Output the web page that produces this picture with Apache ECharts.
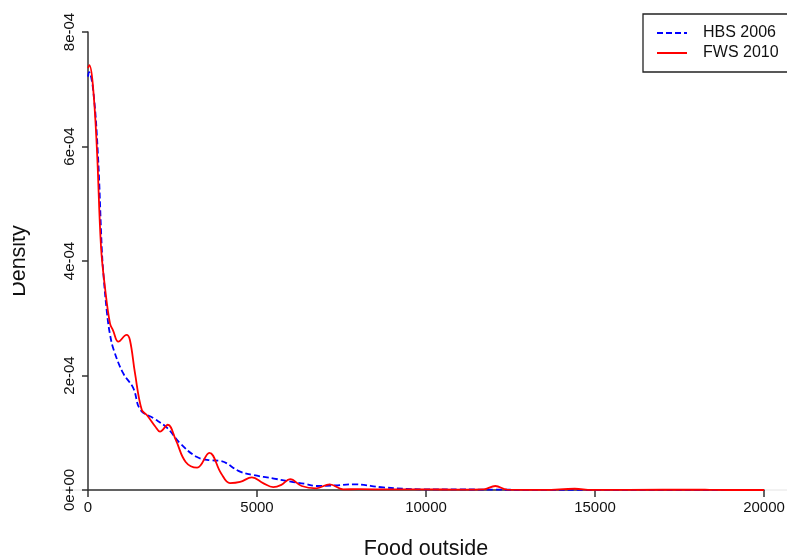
<!DOCTYPE html>
<html>
<head>
<meta charset="utf-8">
<script src="https://cdn.jsdelivr.net/npm/echarts@6/dist/echarts.min.js"></script>
<style>
  html, body { margin: 0; padding: 0; background: #fff; }
  #chart { width: 787px; height: 558px; }
</style>
</head>
<body>
<div id="chart"></div>
<script>
// Kernel density estimates of spending on food outside the home
const hbsX = [0, 30, 150, 290, 410, 455, 560, 650, 760, 1040, 1340, 1550, 1950, 2350, 2720, 3210, 3610, 3900, 4500, 4900, 5500, 6000, 6400, 6770, 7300, 7850, 8740, 9920, 11000, 12000, 13000, 15000, 17000, 20000];
const hbsDensity = [7.22e-4, 7.30e-4, 7.00e-4, 5.90e-4, 4.19e-4, 3.78e-4, 3.10e-4, 2.72e-4, 2.45e-4, 2.04e-4, 1.78e-4, 1.40e-4, 1.25e-4, 1.08e-4, 0.82e-4, 0.58e-4, 0.52e-4, 0.51e-4, 0.32e-4, 0.26e-4, 0.20e-4, 0.145e-4, 0.11e-4, 0.07e-4, 0.08e-4, 0.10e-4, 0.045e-4, 0.012e-4, 0.01e-4, 0.006e-4, 0.003e-4, 0.002e-4, 0.001e-4, 0.0005e-4];

const fwsX = [0, 40, 140, 260, 385, 500, 650, 740, 900, 1140, 1240, 1390, 1590, 1740, 1990, 2130, 2360, 2600, 2890, 3230, 3590, 3940, 4200, 4500, 4850, 5180, 5480, 5720, 5980, 6320, 6750, 7150, 7550, 8000, 9000, 10000, 11000, 11700, 12050, 12400, 13500, 14400, 14900, 16000, 18000, 18500, 20000];
const fwsDensity = [7.37e-4, 7.42e-4, 7.10e-4, 6.00e-4, 4.25e-4, 3.55e-4, 2.91e-4, 2.79e-4, 2.59e-4, 2.71e-4, 2.62e-4, 2.04e-4, 1.40e-4, 1.31e-4, 1.11e-4, 1.02e-4, 1.14e-4, 0.87e-4, 0.49e-4, 0.39e-4, 0.65e-4, 0.29e-4, 0.12e-4, 0.14e-4, 0.22e-4, 0.12e-4, 0.05e-4, 0.09e-4, 0.19e-4, 0.07e-4, 0.03e-4, 0.10e-4, 0.012e-4, 0.015e-4, 0.01e-4, 0.012e-4, 0.006e-4, 0.01e-4, 0.07e-4, 0.005e-4, 0.002e-4, 0.022e-4, 0.002e-4, 0.001e-4, 0.008e-4, 0.001e-4, 0];

const seriesNames = ['HBS 2006', 'FWS 2010'];
const yTickLabels = ['0e+00', '2e-04', '4e-04', '6e-04', '8e-04'];
const xTickLabels = ['0', '5000', '10000', '15000', '20000'];

const FONT = 'Liberation Sans, Arial, Helvetica, sans-serif';
const pairs = (xs, ys) => xs.map((x, i) => [x, ys[i]]);

const chart = echarts.init(document.getElementById('chart'), null, { renderer: 'canvas' });

chart.setOption({
  backgroundColor: '#fff',
  animation: false,
  textStyle: { fontFamily: FONT },
  grid: { left: 88, right: 23, top: 32, bottom: 68, containLabel: false, outerBoundsMode: 'none' },
  xAxis: {
    type: 'value',
    min: 0, max: 20000, interval: 5000,
    name: 'Food outside',
    nameLocation: 'middle',
    nameGap: 48,
    nameTextStyle: { fontSize: 21.5, color: '#111', fontFamily: FONT },
    splitLine: { show: false },
    axisLine: { show: true, onZero: false, lineStyle: { color: '#333', width: 1.5 } },
    axisTick: { show: true, length: 7, lineStyle: { color: '#333', width: 1.5 } },
    axisLabel: {
      fontSize: 15, color: '#111', margin: 10, fontFamily: FONT,
      formatter: v => xTickLabels[Math.round(v / 5000)]
    }
  },
  yAxis: {
    type: 'value',
    min: 0, max: 8e-4, interval: 2e-4,
    name: 'Density',
    nameLocation: 'middle',
    nameRotate: 90,
    nameGap: 58,
    nameTextStyle: { fontSize: 21.5, color: '#111', fontFamily: FONT },
    splitLine: { show: false },
    axisLine: { show: true, onZero: false, lineStyle: { color: '#333', width: 1.5 } },
    axisTick: { show: true, length: 6, lineStyle: { color: '#333', width: 1.5 } },
    axisLabel: {
      fontSize: 15, color: '#111', margin: 11, rotate: 90, fontFamily: FONT,
      formatter: v => yTickLabels[Math.round(v / 2e-4)]
    }
  },
  legend: {
    orient: 'vertical',
    left: 643, top: 14,
    padding: [11, 40, 11, 13],
    itemWidth: 30, itemHeight: 16, itemGap: 4,
    borderColor: '#222', borderWidth: 1.3,
    backgroundColor: '#fff',
    itemStyle: { opacity: 0 },
    textStyle: { fontSize: 16, color: '#111', fontFamily: FONT, padding: [0, 0, 0, 11] },
    data: seriesNames
  },
  graphic: [
    {
      type: 'line', z: -1, silent: true,
      shape: { x1: 62, y1: 490, x2: 787, y2: 490 },
      style: { stroke: '#e4e4e4', lineWidth: 1 }
    },
    {
      type: 'rect', z: 100, silent: true,
      shape: { x: 0, y: 0, width: 13, height: 558 },
      style: { fill: '#fff' }
    }
  ],
  series: [
    {
      name: seriesNames[0],
      type: 'line',
      data: pairs(hbsX, hbsDensity),
      showSymbol: false, symbol: 'none',
      smooth: 0.4,
      lineStyle: { color: '#0000ff', width: 1.8, type: [6, 3] },
      itemStyle: { color: '#0000ff' },
      z: 2
    },
    {
      name: seriesNames[1],
      type: 'line',
      data: pairs(fwsX, fwsDensity),
      showSymbol: false, symbol: 'none',
      smooth: 0.4,
      lineStyle: { color: '#ff0000', width: 1.8 },
      itemStyle: { color: '#ff0000' },
      z: 3
    }
  ]
});
</script>
</body>
</html>
